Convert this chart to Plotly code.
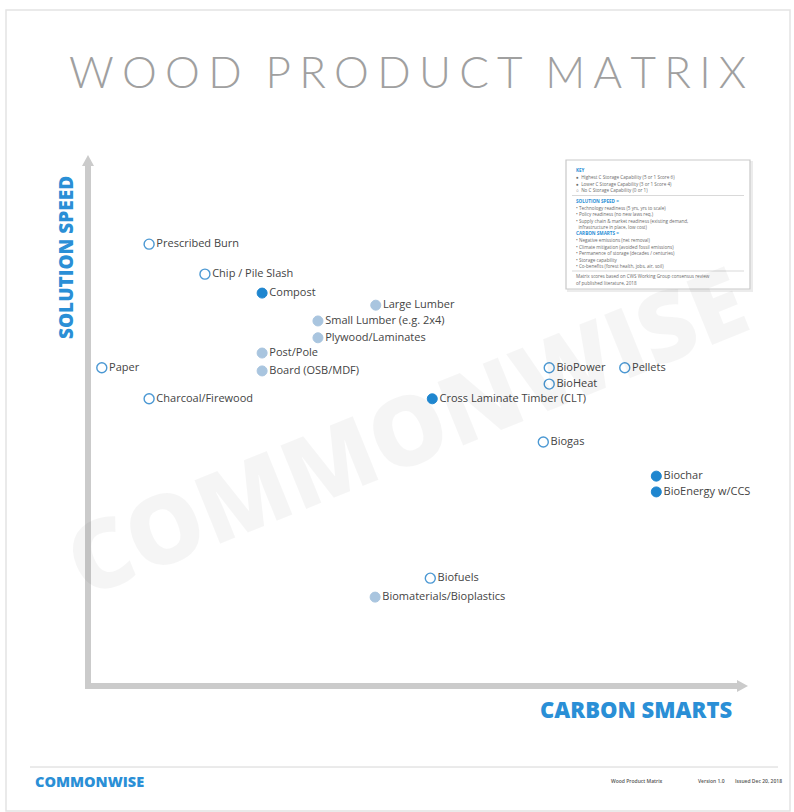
import plotly.graph_objects as go

# ---------------- data ----------------
products = [
    "Prescribed Burn", "Chip / Pile Slash", "Compost", "Large Lumber",
    "Small Lumber (e.g. 2x4)", "Plywood/Laminates", "Post/Pole", "Board (OSB/MDF)",
    "Paper", "Charcoal/Firewood", "Cross Laminate Timber (CLT)", "BioPower",
    "Pellets", "BioHeat", "Biogas", "Biochar", "BioEnergy w/CCS",
    "Biofuels", "Biomaterials/Bioplastics",
]
carbon_smarts = [9.3, 17.8, 26.5, 43.8, 35.0, 35.0, 26.5, 26.5,
                 2.1, 9.3, 52.4, 70.2, 81.7, 70.2, 69.3, 86.5, 86.5,
                 52.1, 43.7]
solution_speed = [84.0, 78.3, 74.7, 72.4, 69.4, 66.2, 63.3, 59.9,
                  60.5, 54.6, 54.6, 60.5, 60.5, 57.4, 46.4, 39.9, 36.9,
                  20.5, 16.9]
storage_tier = ["none", "none", "high", "low", "low", "low", "low", "low",
                "none", "none", "high", "none", "none", "none", "none", "high", "high",
                "none", "low"]

key_lines = [
    ("KEY", "head"),
    ("\u25CF  Highest C Storage Capability (5 or 1 Score 6)", "t"),
    ("\u25CF  Lower C Storage Capability (3 or 1 Score 4)", "t"),
    ("\u25CB  No C Storage Capability (0 or 1)", "t"),
    ("SOLUTION SPEED =", "head"),
    ("\u2022 Technology readiness (5 yrs, yrs to scale)", "t"),
    ("\u2022 Policy readiness (no new laws req.)", "t"),
    ("\u2022 Supply chain & market readiness (existing demand,", "t"),
    ("  infrastructure in place, low cost)", "t"),
    ("CARBON SMARTS =", "head"),
    ("\u2022 Negative emissions (net removal)", "t"),
    ("\u2022 Climate mitigation (avoided fossil emissions)", "t"),
    ("\u2022 Permanence of storage (decades / centuries)", "t"),
    ("\u2022 Storage capability", "t"),
    ("\u2022 Co-benefits (forest health, jobs, air, soil)", "t"),
    ("Matrix scores based on CWS Working Group consensus review", "t"),
    ("of published literature, 2018", "t"),
]
key_y_px = [170, 177, 183.5, 190, 201, 207.5, 214, 220.5, 227, 233.5, 240, 246.5,
            253, 259.5, 266, 276, 282.5]

footer_right = ["Wood Product Matrix", "Version 1.0", "Issued Dec 20, 2018"]
footer_right_x_px = [637, 711, 758]

# ---------------- styling ----------------
W, H = 794, 812
ML, MR, MT, MB = 88, 49, 160, 126
PW, PH = W - ML - MR, H - MT - MB

def px(x):
    return (x - ML) / PW

def py(y):
    return (H - MB - y) / PH

BLUE = "#2a8fd6"
DARK = "#1f86cf"
LIGHT = "#a9c5df"
OPEN_LINE = "#4b98d3"
GRAY_AX = "#cbcbcb"

styles = {
    "high": dict(color=DARK, line=dict(color=DARK, width=1)),
    "low": dict(color=LIGHT, line=dict(color=LIGHT, width=1)),
    "none": dict(color="white", line=dict(color=OPEN_LINE, width=1.4)),
}

fig = go.Figure()
for tier in ["low", "none", "high"]:
    idx = [i for i, t in enumerate(storage_tier) if t == tier]
    fig.add_trace(go.Scatter(
        x=[carbon_smarts[i] for i in idx],
        y=[solution_speed[i] for i in idx],
        text=[products[i] for i in idx],
        mode="markers+text",
        textposition="middle right",
        textfont=dict(family="Open Sans", size=11, color="#444444"),
        marker=dict(size=10, **styles[tier]),
        hoverinfo="text",
        showlegend=False,
        cliponaxis=False,
    ))

shapes = []
# page border
shapes.append(dict(type="rect", xref="paper", yref="paper",
                   x0=px(6), x1=px(790), y0=py(811), y1=py(10),
                   line=dict(color="#e4e4e4", width=1.5), layer="below"))
# axes
shapes.append(dict(type="line", xref="paper", yref="paper",
                   x0=px(88), x1=px(88), y0=py(689), y1=py(165),
                   line=dict(color=GRAY_AX, width=6), layer="below"))
shapes.append(dict(type="path", xref="paper", yref="paper",
                   path=f"M {px(82)},{py(166)} L {px(88)},{py(155)} L {px(94)},{py(166)} Z",
                   fillcolor=GRAY_AX, line=dict(width=0), layer="below"))
shapes.append(dict(type="line", xref="paper", yref="paper",
                   x0=px(85), x1=px(738), y0=py(686), y1=py(686),
                   line=dict(color=GRAY_AX, width=6), layer="below"))
shapes.append(dict(type="path", xref="paper", yref="paper",
                   path=f"M {px(737)},{py(680)} L {px(748)},{py(686)} L {px(737)},{py(692)} Z",
                   fillcolor=GRAY_AX, line=dict(width=0), layer="below"))
# key box (with faint shadow)
shapes.append(dict(type="rect", xref="paper", yref="paper",
                   x0=px(568), x1=px(752), y0=py(291), y1=py(162),
                   line=dict(color="#ececec", width=2), fillcolor="#f3f3f3", layer="below"))
shapes.append(dict(type="rect", xref="paper", yref="paper",
                   x0=px(566), x1=px(750), y0=py(289), y1=py(160),
                   line=dict(color="#c9c9c9", width=1.2), fillcolor="white", layer="below"))
shapes.append(dict(type="line", xref="paper", yref="paper",
                   x0=px(572), x1=px(744), y0=py(195.5), y1=py(195.5),
                   line=dict(color="#cfcfcf", width=0.8)))
shapes.append(dict(type="line", xref="paper", yref="paper",
                   x0=px(572), x1=px(744), y0=py(271), y1=py(271),
                   line=dict(color="#cfcfcf", width=0.8)))
# footer line
shapes.append(dict(type="line", xref="paper", yref="paper",
                   x0=px(30), x1=px(778), y0=py(767), y1=py(767),
                   line=dict(color="#d6d6d6", width=1)))

def ann(text, x, y, size, color, weight=400, family="Open Sans", angle=0, xanchor="center"):
    return dict(text=text, xref="paper", yref="paper", x=px(x), y=py(y),
                xanchor=xanchor, yanchor="middle", showarrow=False, textangle=angle,
                font=dict(family=family, size=size, color=color, weight=weight))

annotations = []
# watermark (translucent so labels show through)
annotations.append(ann("COMMONWISE", 405, 428, 96, "rgba(0,0,0,0.04)", weight=800, angle=-22))
# title
title = "  ".join("\u2009\u200A".join(list(w)) for w in ["WOOD", "PRODUCT", "MATRIX"])
annotations.append(ann(title, 407, 71, 44, "#a0a0a0", weight=300, family="Lato"))
# axis titles
annotations.append(ann("SOLUTION SPEED", 66, 258, 19, BLUE, weight=800, angle=-90))
annotations.append(ann("CARBON SMARTS", 636, 709, 22, BLUE, weight=800))
# key box text
for (txt, kind), yy in zip(key_lines, key_y_px):
    annotations.append(ann(txt, 574, yy, 4.6,
                           BLUE if kind == "head" else "#6a6a6a",
                           weight=700 if kind == "head" else 400, xanchor="left"))
# footer
annotations.append(ann("COMMONWISE", 33, 781, 14.5, BLUE, weight=800, xanchor="left"))
for txt, xx in zip(footer_right, footer_right_x_px):
    annotations.append(ann(txt, xx, 781, 5, "#555555", weight=600))

fig.update_layout(
    width=W, height=H,
    margin=dict(l=ML, r=MR, t=MT, b=MB, autoexpand=False),
    paper_bgcolor="white", plot_bgcolor="rgba(0,0,0,0)",
    xaxis=dict(range=[0, 100], visible=False, fixedrange=True),
    yaxis=dict(range=[0, 100], visible=False, fixedrange=True),
    shapes=shapes, annotations=annotations,
)

fig.write_html(
    "out.html",
    config={"displayModeBar": False},
    post_script="document.body.style.margin='0';document.body.style.overflow='hidden';",
)
